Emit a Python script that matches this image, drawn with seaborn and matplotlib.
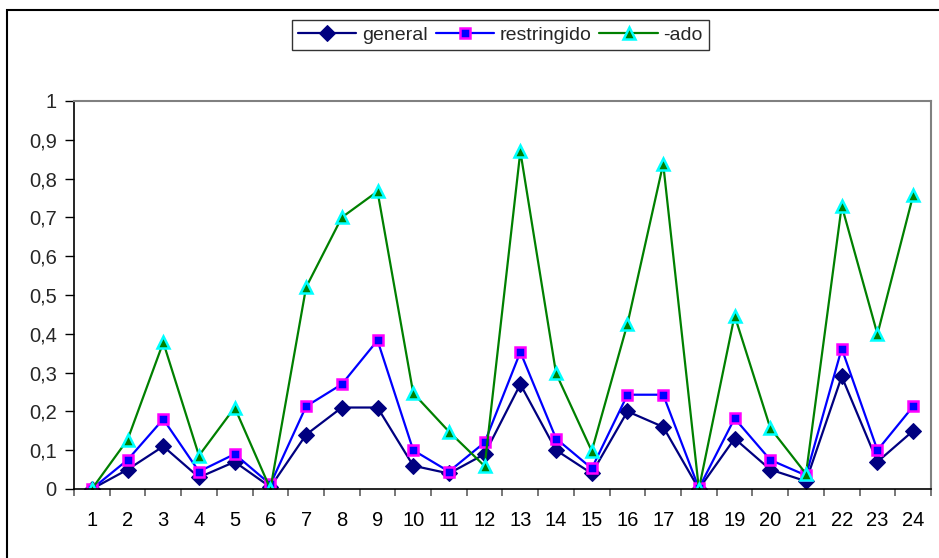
import matplotlib
matplotlib.use("Agg")
import matplotlib.pyplot as plt
import seaborn as sns
import pandas as pd
from matplotlib.patches import Rectangle
from matplotlib.ticker import FuncFormatter, FixedLocator

categories = list(range(1, 25))
general = [0, 0.05, 0.11, 0.03, 0.07, 0.005, 0.14, 0.21, 0.21, 0.06, 0.04, 0.09,
           0.27, 0.10, 0.04, 0.20, 0.16, 0.0, 0.13, 0.05, 0.02, 0.29, 0.07, 0.15]
restringido = [0, 0.075, 0.18, 0.045, 0.09, 0.012, 0.213, 0.27, 0.383, 0.10, 0.045, 0.12,
               0.353, 0.13, 0.053, 0.243, 0.243, 0.002, 0.182, 0.075, 0.035, 0.362, 0.10, 0.213]
ado = [0, 0.127, 0.378, 0.086, 0.21, 0, 0.52, 0.70, 0.767, 0.247, 0.148, 0.059,
       0.87, 0.298, 0.098, 0.426, 0.838, 0, 0.447, 0.157, 0.039, 0.73, 0.399, 0.757]
series_names = ["general", "restringido", "-ado"]

sns.set_theme(style="white")
plt.rcParams['font.family'] = ['Liberation Sans', 'DejaVu Sans']

fig = plt.figure(figsize=(9.39, 5.58), dpi=100)
ax = fig.add_axes([74/939, 1-489/558, (931-74)/939, (489-101)/558])

styles = [
    dict(color="#000080", marker="D", markersize=8, markerfacecolor="#000080", markeredgecolor="#000080"),
    dict(color="#0000FF", marker="s", markersize=7.5, markerfacecolor="#0000FF", markeredgecolor="#FF00FF", markeredgewidth=1.8),
    dict(color="#008000", marker="^", markersize=8.5, markerfacecolor="#008000", markeredgecolor="#00FFFF", markeredgewidth=1.8),
]
for name, vals, st in zip(series_names, [general, restringido, ado], styles):
    df = pd.DataFrame({"x": categories, "y": vals})
    sns.lineplot(data=df, x="x", y="y", ax=ax, label=name, linewidth=1.6, **st)

ax.set_xlim(0.5, 24.5)
ax.set_ylim(0, 1)
ax.set_yticks([i/10 for i in range(11)])
ax.yaxis.set_major_formatter(FuncFormatter(lambda v, p: ("%g" % round(v, 1)).replace(".", ",")))
ax.set_xticks(categories)
ax.set_xticklabels([str(c) for c in categories])
ax.xaxis.set_minor_locator(FixedLocator([c + 0.5 for c in range(0, 25)]))
ax.tick_params(axis="x", which="major", length=0, pad=16, labelsize=14.5, colors="black")
ax.tick_params(axis="x", which="minor", length=5, width=1.2, color="#606060", bottom=True)
ax.tick_params(axis="y", which="major", length=6.5, width=1, color="black", left=True, labelsize=14.5, pad=6)
ax.set_xlabel("")
ax.set_ylabel("")
ax.grid(False)
for s in ["left", "bottom"]:
    ax.spines[s].set_color("black")
    ax.spines[s].set_linewidth(1.2)
for s in ["top", "right"]:
    ax.spines[s].set_color("#808080")
    ax.spines[s].set_linewidth(1.5)

leg = ax.legend(loc="center", bbox_to_anchor=(500.5/939, 1-35/558), bbox_transform=fig.transFigure,
                ncol=3, frameon=True, fancybox=False, edgecolor="black", fontsize=14,
                handlelength=3.0, columnspacing=0.4, handletextpad=0.3, borderpad=0.3)
leg.get_frame().set_linewidth(1.0)

fig.patches.append(Rectangle((7/939, -0.1), 1.2, 1.1 - 10/558, transform=fig.transFigure,
                             fill=False, edgecolor="black", linewidth=1.5))

fig.savefig("out.png", dpi=100)
